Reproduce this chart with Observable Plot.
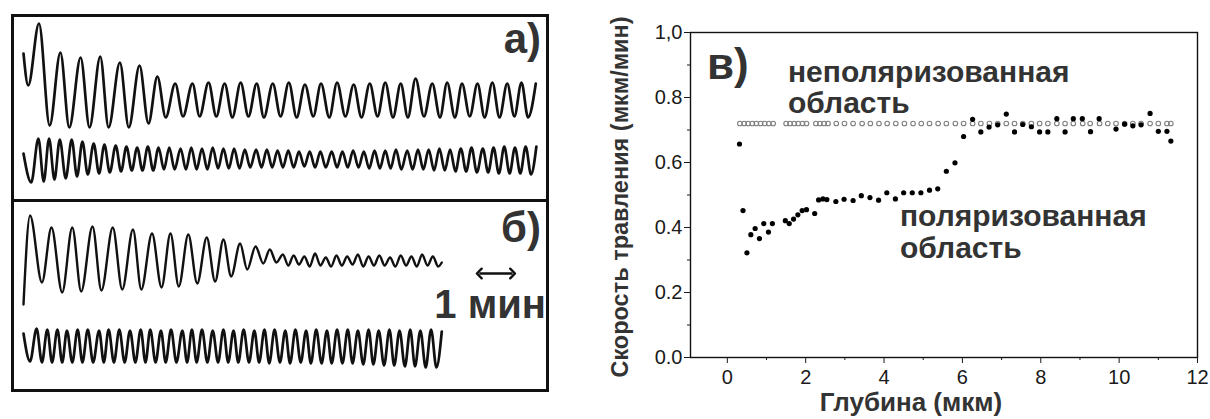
<!DOCTYPE html>
<html>
<head>
<meta charset="utf-8">
<script src="https://cdn.jsdelivr.net/npm/d3@7"></script>
<script src="https://cdn.jsdelivr.net/npm/@observablehq/plot@0.6"></script>
<style>
  html, body { margin: 0; padding: 0; background: #fff; }
  #page { position: relative; width: 1210px; height: 419px; overflow: hidden; background: #fff;
          font-family: "Liberation Sans", Arial, sans-serif; }
  .abs { position: absolute; white-space: nowrap; line-height: 1; }
  .lbl { color: #333; font-weight: bold; }
  .box { position: absolute; border: 3px solid #111; box-sizing: border-box; }
</style>
</head>
<body>
<div id="page"></div>
<script>
// ---------- Left panels: interferometric traces (time in s, signal in arb. units) ----------
const traceA1 = [[0,366],[8,334],[26,396],[44,294],[62,367],[77,292],[96,362],[111,292],[129,363],[143,292],[162,357],[177,292],[195,354],[210,296],[225,343],[239,302],[255,336],[268,303],[284,336],[296,303],[311,337],[324,303],[338,336],[351,302],[365,337],[378,303],[392,336],[404,302],[419,336],[432,303],[446,337],[459,302],[473,335],[487,303],[500,336],[514,302],[527,337],[541,303],[555,335],[568,302],[582,336],[595,303],[608,337],[621,302],[634,336],[646,302],[659,341],[673,303],[687,336],[700,302],[712,337],[725,302],[737,336],[750,303],[763,336],[775,302],[788,337],[800,302],[813,336],[825,303],[837,337],[848,302],[861,336]];

const traceA2Peaks = [[0,266],[25,281],[43,281],[61,280],[81,280],[99,278],[118,276],[136,275],[155,274],[173,273],[191,272],[209,273],[227,272],[245,272],[264,271],[282,272],[300,271],[318,272],[336,271],[354,271],[372,270],[391,270],[409,270],[427,269],[445,269],[463,268],[481,268],[499,268],[518,268],[536,268],[554,269],[572,268],[590,269],[608,269],[626,270],[645,269],[663,270],[681,270],[699,271],[717,270],[735,271],[753,272],[772,271],[790,272],[808,273],[826,272],[844,273],[862,273]];
const traceA2Troughs = [[13,237],[34,238],[52,240],[71,241],[90,243],[108,245],[127,246],[145,247],[164,248],[182,249],[200,249],[218,249],[236,250],[254,250],[273,250],[291,250],[309,250],[327,251],[345,251],[363,251],[381,252],[400,252],[418,252],[436,252],[454,252],[472,253],[490,252],[508,252],[527,252],[545,252],[563,252],[581,251],[599,251],[617,251],[635,250],[654,250],[672,250],[690,249],[708,249],[726,248],[744,248],[762,247],[781,247],[799,246],[817,246],[835,246],[853,245]];

const traceB1 = [[0,115],[11,204],[31,137],[47,192],[65,127],[82,192],[97,128],[116,193],[131,129],[150,192],[166,130],[184,190],[198,130],[216,186],[232,132],[247,186],[261,133],[277,185],[292,136],[308,182],[322,138],[336,180],[349,143],[364,176],[376,150],[390,173],[403,156],[414,170],[425,157],[436,165],[445,154],[454,164],[463,155],[472,163],[481,153],[490,166],[499,154],[508,162],[517,153],[526,164],[535,154],[544,163],[553,155],[562,165],[571,153],[580,163],[589,154],[598,164],[607,154],[616,162],[625,153],[634,164],[643,154],[652,163],[661,153],[670,165],[679,154],[688,163],[697,153],[703,157]];

const traceB2Peaks = [[0,86],[22,91],[40,90],[57,90],[73,89],[91,90],[108,90],[127,89],[143,90],[161,90],[179,89],[197,90],[213,90],[231,89],[248,90],[267,89],[283,90],[300,90],[318,89],[336,90],[353,89],[370,90],[388,89],[405,90],[422,90],[440,89],[457,90],[475,89],[492,90],[510,89],[527,90],[545,90],[562,89],[580,90],[597,89],[615,90],[632,89],[650,90],[667,89],[685,90],[703,88]];
const traceB2Troughs = [[11,58],[31,57],[48,57],[65,57],[82,57],[99,57],[117,57],[135,57],[152,57],[170,57],[188,57],[205,57],[222,57],[239,57],[257,57],[275,57],[291,57],[309,57],[327,57],[344,57],[361,57],[379,57],[396,57],[413,56],[431,57],[448,56],[466,57],[483,56],[501,56],[518,56],[536,56],[553,56],[571,55],[588,55],[606,54],[623,54],[641,53],[658,53],[676,52],[694,52]];

const scaleBar = [[766, 146, 822, 146]];   // 1 мин

// ---------- Right panel: etch rate vs depth ----------
const depthPolarized = [0.31,0.40,0.50,0.60,0.71,0.82,0.93,1.05,1.15,1.48,1.58,1.69,1.80,1.91,2.02,2.23,2.33,2.44,2.54,2.77,2.98,3.21,3.42,3.64,3.86,4.07,4.29,4.50,4.72,4.94,5.16,5.37,5.59,5.81,6.03,6.26,6.47,6.68,6.90,7.12,7.33,7.54,7.76,7.97,8.18,8.41,8.62,8.83,9.06,9.27,9.49,9.92,10.14,10.35,10.56,10.79,11.00,11.22,11.32];
const ratePolarized = [0.657,0.452,0.322,0.378,0.397,0.366,0.412,0.386,0.412,0.421,0.412,0.426,0.439,0.452,0.455,0.443,0.485,0.488,0.486,0.480,0.487,0.483,0.498,0.492,0.484,0.507,0.488,0.507,0.507,0.507,0.515,0.519,0.573,0.599,0.680,0.733,0.694,0.709,0.716,0.749,0.694,0.717,0.710,0.694,0.694,0.735,0.694,0.735,0.735,0.695,0.735,0.703,0.718,0.713,0.716,0.751,0.696,0.696,0.666];

const depthUnpolarized = [0.32,0.43,0.53,0.64,0.74,0.85,0.95,1.06,1.17,1.50,1.60,1.71,1.81,1.92,2.02,2.26,2.36,2.47,2.57,2.78,2.99,3.21,3.44,3.65,3.87,4.08,4.30,4.52,4.74,4.95,5.16,5.38,5.59,5.82,6.03,6.26,6.47,6.69,6.90,7.12,7.33,7.54,7.76,7.97,8.18,8.41,8.62,8.83,9.07,9.26,9.50,9.71,9.92,10.14,10.35,10.56,10.79,11.00,11.22,11.32];
const rateUnpolarized = 0.72;

const xTicks = [0,2,4,6,8,10,12];
const xMinorTicks = [1,3,5,7,9,11];
const yTicks = [0,0.2,0.4,0.6,0.8,1.0];
const yMinorTicks = [0.1,0.3,0.5,0.7,0.9];

// ---------- build page ----------
const page = document.getElementById("page");
function addDiv(cls, css, text) {
  const d = document.createElement("div");
  d.className = cls;
  Object.assign(d.style, css);
  if (text != null) d.textContent = text;
  page.appendChild(d);
  return d;
}
const BASE = "translate(0, -84.6%)";      // puts the text baseline on 'top'
const BASE_R = "translate(-100%, -84.6%)";

// frames of the left panels
addDiv("box", {left: "11px", top: "14px", width: "538px", height: "378px"});
addDiv("box", {left: "11px", top: "199px", width: "538px", height: "3px", border: "none", background: "#111"});

const toObj = arr => arr.map(([t, v]) => ({t, v}));
const bySort = arr => arr.slice().sort((a, b) => a.t - b.t);
const A1 = toObj(traceA1);
const A2 = bySort(toObj(traceA2Peaks.concat(traceA2Troughs)));
const B1 = toObj(traceB1);
const B2 = bySort(toObj(traceB2Peaks.concat(traceB2Troughs)));
const lineOpts = {x: "t", y: "v", curve: "monotone-x", stroke: "#111", strokeWidth: 2.7, strokeLinejoin: "round", strokeLinecap: "round"};

const left = Plot.plot({
  width: 560, height: 419,
  marginLeft: 23, marginRight: 25.3, marginTop: 0, marginBottom: 0,
  x: {domain: [0, 860], axis: null},
  y: {domain: [0, 419], axis: null},
  style: {background: "transparent", overflow: "visible"},
  marks: [
    Plot.line(A1, lineOpts),
    Plot.line(A2, lineOpts),
    Plot.line(B1, {...lineOpts, strokeWidth: 2.4}),
    Plot.line(B2, lineOpts),
    Plot.link(scaleBar, {x1: d => d[0], y1: d => d[1], x2: d => d[2], y2: d => d[3],
      stroke: "#111", strokeWidth: 2.4, markerStart: "arrow-reverse", markerEnd: "arrow"})
  ]
});
left.style.position = "absolute"; left.style.left = "0px"; left.style.top = "0px";
page.appendChild(left);

addDiv("abs lbl", {left: "541px", top: "54px", fontSize: "42px", transform: BASE_R}, "а)");
addDiv("abs lbl", {left: "541px", top: "243px", fontSize: "42px", transform: BASE_R}, "б)");
addDiv("abs lbl", {left: "546px", top: "318px", fontSize: "40px", transform: BASE_R}, "1 мин");

// right scatter plot
const polarized = depthPolarized.map((d, i) => ({depth: d, rate: ratePolarized[i]}));
const unpolarized = depthUnpolarized.map(d => ({depth: d, rate: rateUnpolarized}));

const right = Plot.plot({
  width: 610, height: 419,
  marginLeft: 90, marginRight: 13, marginTop: 32, marginBottom: 62,
  x: {domain: [-0.94, 12]},
  y: {domain: [0, 1]},
  style: {background: "transparent", fontFamily: "'Liberation Sans', Arial, sans-serif", fontSize: "20px", color: "#1a1a1a", overflow: "visible"},
  marks: [
    Plot.frame({stroke: "#111", strokeWidth: 1.4}),
    Plot.axisX(xTicks, {tickSize: 6, tickPadding: 6, label: null, tickFormat: d => String(d)}),
    Plot.axisX(xMinorTicks, {tickSize: 3, label: null, tickFormat: () => ""}),
    Plot.axisY(yTicks, {tickSize: 6, tickPadding: 2, label: null, tickFormat: d => d === 1 ? "1,0" : d3.format(".1f")(d)}),
    Plot.axisY(yMinorTicks, {tickSize: 3, label: null, tickFormat: () => ""}),
    Plot.dot(unpolarized, {x: "depth", y: "rate", r: 2.3, stroke: "#808080", strokeWidth: 1.1, fill: "none"}),
    Plot.dot(polarized, {x: "depth", y: "rate", r: 2.6, fill: "#000", stroke: "none"})
  ]
});
right.style.position = "absolute"; right.style.left = "600px"; right.style.top = "0px";
// tick labels: larger, slightly condensed like the original
d3.select(right).selectAll("g[aria-label$='tick label'] text")
  .style("font-size", "20px").attr("font-size", 20);
page.appendChild(right);

addDiv("abs lbl", {left: "621px", top: "197px", fontSize: "23.5px", transform: "translate(-50%, -50%) rotate(-90deg)"}, "Скорость травления (мкм/мин)");
addDiv("abs lbl", {left: "911px", top: "402px", fontSize: "26px", transform: "translate(-50%, -50%)"}, "Глубина (мкм)");
addDiv("abs lbl", {left: "707px", top: "79px", fontSize: "44px", transform: BASE}, "в)");
addDiv("abs lbl", {left: "788px", top: "82px", fontSize: "30px", transform: BASE}, "неполяризованная");
addDiv("abs lbl", {left: "788px", top: "112.5px", fontSize: "30px", transform: BASE}, "область");
addDiv("abs lbl", {left: "900px", top: "226px", fontSize: "30px", transform: BASE}, "поляризованная");
addDiv("abs lbl", {left: "900px", top: "258px", fontSize: "30px", transform: BASE}, "область");
</script>
</body>
</html>
